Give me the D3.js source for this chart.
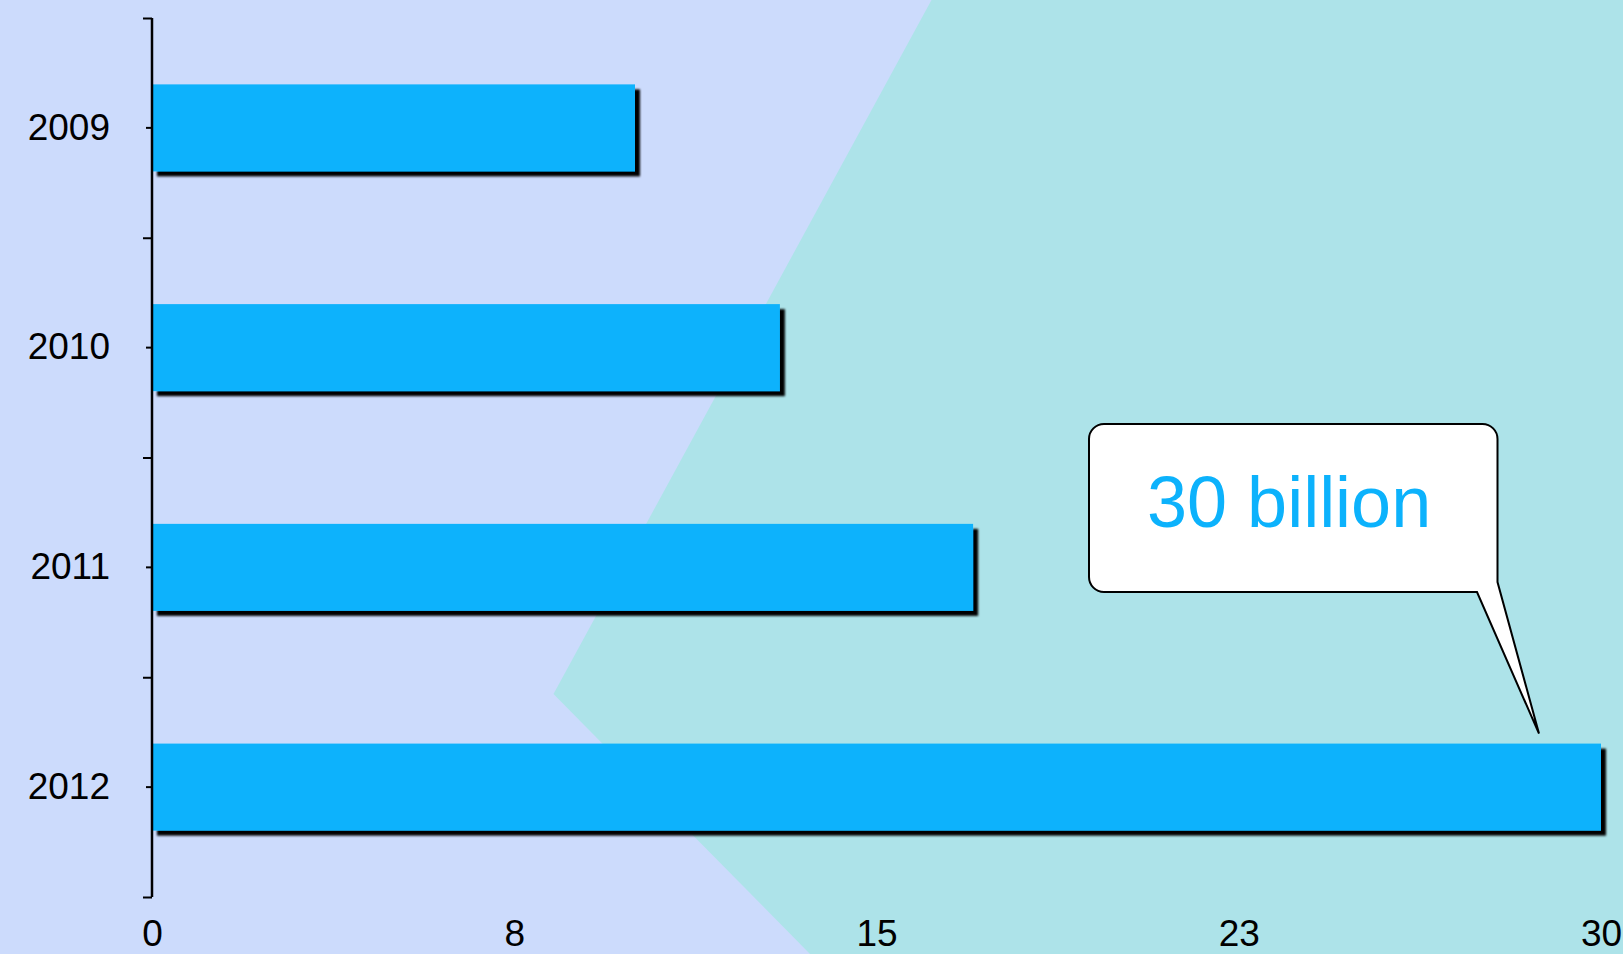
<!DOCTYPE html>
<html>
<head>
<meta charset="utf-8">
<script src="https://cdn.jsdelivr.net/npm/d3@7/dist/d3.min.js"></script>
<style>
  html, body { margin: 0; padding: 0; background: #CCDBFC; }
  svg { display: block; }
  text { font-family: "Liberation Sans", Arial, Helvetica, sans-serif; }
</style>
</head>
<body>
<svg id="chart" width="1623" height="954"></svg>
<script>
const categories = ["2009", "2010", "2011", "2012"];
const values = [10, 13, 17, 30];
const xTickValues = [0, 7.5, 15, 22.5, 30];
const xTickLabels = ["0", "8", "15", "23", "30"];
const calloutText = "30 billion";

(function () {
const W = 1623, H = 954;
const mLeft = 152, mRight = 1601, mTop = 18, mBottom = 897;

const svg = d3.select("#chart");

// background
svg.append("rect").attr("width", W).attr("height", H).attr("fill", "#CCDBFC");
svg.append("polygon")
  .attr("points", [[931.5, 0], [553.5, 694], [810, H], [W, H], [W, 0]].map(p => p.join(",")).join(" "))
  .attr("fill", "#ADE3E9");

// shadow filter
const defs = svg.append("defs");
const f = defs.append("filter").attr("id", "shadow")
  .attr("x", "-5%").attr("y", "-20%").attr("width", "115%").attr("height", "150%");
f.append("feDropShadow").attr("dx", 5).attr("dy", 5).attr("stdDeviation", 1)
  .attr("flood-color", "#000").attr("flood-opacity", 1);

const x = d3.scaleLinear().domain([0, 30]).range([mLeft, mRight]);
const y = d3.scaleBand().domain(categories).range([mTop, mBottom])
  .paddingInner(0.604).paddingOuter(0.302);

// bars
svg.append("g").selectAll("rect")
  .data(categories.map((c, i) => ({ c, v: values[i] })))
  .join("rect")
  .attr("x", x(0))
  .attr("y", d => y(d.c))
  .attr("width", d => x(d.v) - x(0))
  .attr("height", y.bandwidth())
  .attr("fill", "#0CB2FC")
  .attr("filter", "url(#shadow)");

// y axis: boundary ticks
const yb = d3.scaleLinear().domain([0, categories.length]).range([mTop, mBottom]);
const gB = svg.append("g").attr("transform", `translate(${mLeft},0)`)
  .call(d3.axisLeft(yb).ticks(categories.length).tickSize(9).tickFormat(""));
gB.select(".domain").remove();
gB.selectAll("line").attr("stroke", "#000").attr("stroke-width", 2);

// y axis: category ticks and labels
const gY = svg.append("g").attr("transform", `translate(${mLeft},0)`)
  .call(d3.axisLeft(y).tickSize(6).tickSizeOuter(0).tickPadding(36));
gY.select(".domain").attr("stroke", "#000").attr("stroke-width", 2.5)
  .attr("d", `M0,${mTop}V${mBottom}`);
gY.selectAll("line").attr("stroke", "#000").attr("stroke-width", 2);
gY.selectAll("text").attr("font-size", 37).attr("fill", "#000")
  .attr("font-family", "'Liberation Sans', Arial, sans-serif");

// x axis labels
const gX = svg.append("g").attr("transform", `translate(0,912)`)
  .call(d3.axisBottom(x).tickValues(xTickValues).tickSize(0).tickPadding(8)
    .tickFormat((d, i) => xTickLabels[i]));
gX.select(".domain").remove();
gX.selectAll("text").attr("font-size", 37).attr("fill", "#000")
  .attr("font-family", "'Liberation Sans', Arial, sans-serif");

// callout
const tipX = x(30) - 62, tipY = y("2012") - 10;
const bx0 = 1089, by0 = 424, bx1 = 1497.5, by1 = 592, r = 15;
const tailA = [1477, by1], tailB = [bx1, 582];
const path = [
  `M${bx0 + r},${by0}`,
  `H${bx1 - r}`,
  `A${r},${r} 0 0 1 ${bx1},${by0 + r}`,
  `V${tailB[1]}`,
  `L${tipX},${tipY}`,
  `L${tailA[0]},${tailA[1]}`,
  `H${bx0 + r}`,
  `A${r},${r} 0 0 1 ${bx0},${by1 - r}`,
  `V${by0 + r}`,
  `A${r},${r} 0 0 1 ${bx0 + r},${by0}`,
  "Z"
].join("");
svg.append("path").attr("d", path).attr("fill", "#fff")
  .attr("stroke", "#000").attr("stroke-width", 2).attr("stroke-linejoin", "miter");
svg.append("text")
  .attr("x", 1147).attr("y", 527)
  .attr("font-size", 72).attr("fill", "#0CB2FC")
  .text(calloutText);
})();
</script>
</body>
</html>
